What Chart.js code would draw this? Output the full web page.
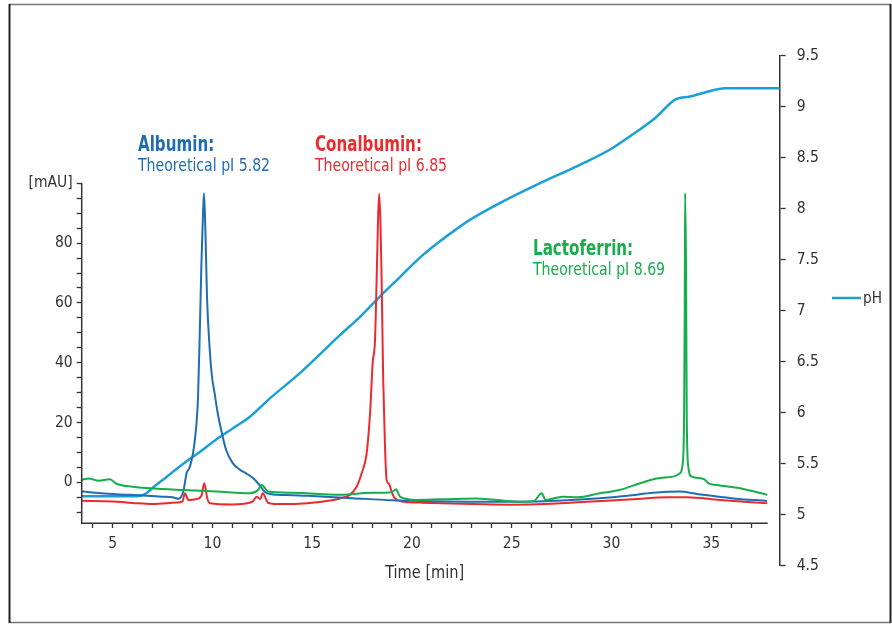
<!DOCTYPE html>
<html><head><meta charset="utf-8">
<script src="https://cdn.jsdelivr.net/npm/chart.js@4.4.0/dist/chart.umd.min.js"></script>
<style>html,body{margin:0;padding:0;background:#fff}#wrap{position:relative;width:892px;height:624px}</style>
</head><body><div id="wrap"><canvas id="c" width="892" height="624"></canvas></div>
<script>
// ---------- data ----------
const albuminTime  = [3.45,5.0,6.5,7.5,8.0,8.3,8.54,8.71,8.87,9.12,9.28,9.37,9.45,9.53,9.58,9.65,9.73,9.86,9.98,10.11,10.27,10.44,10.69,11.02,11.36,11.69,12.02,12.36,12.61,12.88,14,15,17,19,20.4,23,25.4,27.5,29.4,30.8,32.1,33.4,34.3,36,37.8];
const albuminValue = [-3.1,-3.9,-4.4,-4.8,-5.0,-5.5,-3.1,3.1,5.2,14.1,28.6,50.9,73.3,90,96.7,84,62,45,35.3,29.8,23,17.5,10.8,6.4,4.3,3.0,1.5,-0.9,-3.1,-3.9,-4.3,-4.6,-5.3,-6.0,-6.25,-6.5,-6.5,-6.1,-5.35,-4.5,-3.5,-3.1,-3.9,-5.3,-6.25];

const conalbuminTime  = [3.45,5.0,6.0,7.0,8.2,8.5,8.62,8.8,9.21,9.45,9.59,9.75,9.88,11,12.0,12.22,12.4,12.52,12.8,13.5,16,16.39,16.89,17.23,17.48,17.73,17.9,18.03,18.15,18.23,18.31,18.36,18.43,18.48,18.56,18.65,18.73,18.86,18.98,19.15,19.57,20.4,22.5,24.9,27,28.76,31.27,32.77,33.77,35.44,37.8];
const conalbuminValue = [-6.2,-6.4,-6.9,-7.3,-6.8,-6.4,-3.7,-5.9,-5.6,-4.5,-0.3,-5.5,-7.0,-7.4,-6.5,-4.8,-5.6,-3.7,-6.9,-7.3,-6.0,-5.4,-4.2,-1.5,3.0,9.7,23,39.8,47.6,67.7,90,96.5,85,67.7,34.2,11.9,0.8,-0.6,-3.1,-5.4,-6.5,-6.8,-7.2,-7.5,-7.2,-6.5,-5.6,-5.0,-5.0,-5.9,-7.0];

const lactoferrinTime  = [3.45,3.8,4.3,4.86,5.2,6.0,6.87,8.54,10.21,11.88,12.3,12.47,12.8,14,16.39,18.0,19.0,19.2,19.4,20.24,21.4,22.1,23.2,25.4,26.1,26.5,26.7,27.55,28.3,29.4,30.4,31.43,32.27,33.1,33.43,33.57,33.64,33.67,33.69,33.74,33.77,33.85,34.02,34.52,34.69,34.85,35.27,36.44,37.8];
const lactoferrinValue = [0.8,1.3,0.5,1.0,-0.5,-1.5,-2.0,-2.6,-3.1,-3.7,-2.5,-0.9,-3.1,-3.5,-4.2,-3.5,-3.3,-2.3,-4.8,-5.9,-5.7,-5.6,-5.4,-6.5,-6.3,-3.7,-5.9,-4.8,-5.0,-3.7,-2.6,-0.3,1.3,1.9,3.0,6.4,23.1,56.6,96.7,67.7,23.1,5.2,1.9,1.3,0.8,-0.3,-0.9,-2.0,-4.2];

const phTime  = [3.45,5.0,6.2,6.7,6.87,7.7,8.54,9.4,10.21,11.05,11.88,12.88,14.4,16.39,17.4,18.4,19.4,20.4,21.4,22.16,22.9,24.26,26.42,28.42,29.93,30.93,32.19,33.19,33.94,34.69,35.69,38.43];
const phValue = [5.18,5.18,5.18,5.21,5.24,5.37,5.50,5.62,5.74,5.85,5.96,6.14,6.39,6.76,6.94,7.14,7.33,7.52,7.68,7.79,7.89,8.04,8.25,8.43,8.58,8.71,8.89,9.07,9.10,9.14,9.18,9.18];

const xTickValues  = [4,5,6,7,8,9,10,11,12,13,14,15,16,17,18,19,20,21,22,23,24,25,26,27,28,29,30,31,32,33,34,35,36,37];
const mauTickValues = [-10,-5,0,5,10,15,20,25,30,35,40,45,50,55,60,65,70,75,80,85,90,95,100];
const phTickValues  = [4.5,5,5.5,6,6.5,7,7.5,8,8.5,9,9.5];

// ---------- styling ----------
const FONT = "'Liberation Sans Narrow','DejaVu Sans Condensed','Liberation Sans',sans-serif";
const C_ALB = '#1f6db4', C_CON = '#ec2a2e', C_LAC = '#16ad4b', C_PH = '#1aa0d6';
const AX = '#333333';
const X_MIN = 3.45, X_AXIS_END = 37.83, X_MAX = 38.43;
const Y_MIN = -27.9, Y_MAX = 142.7, X_AXIS_AT = -13.7;
const X_TITLE = 'Time [min]';

const zip = (t, v) => t.map((x, i) => ({x: x, y: v[i]}));

const decor = {
  id: 'decor',
  beforeDraw(chart) {
    const ctx = chart.ctx;
    ctx.save(); ctx.fillStyle = '#fff'; ctx.fillRect(0, 0, chart.width, chart.height); ctx.restore();
  },
  afterDraw(chart) {
    const ctx = chart.ctx, ys = chart.scales.y, xs = chart.scales.x;
    ctx.save();
    // left axis line (from [mAU] tick down to the time axis)
    ctx.strokeStyle = AX; ctx.lineWidth = 1.5;
    ctx.beginPath();
    ctx.moveTo(ys.right, ys.getPixelForValue(100));
    ctx.lineTo(ys.right, ys.getPixelForValue(X_AXIS_AT) + 0.75);
    ctx.stroke();
    // time axis line
    const yx = ys.getPixelForValue(X_AXIS_AT);
    const xl = xs.getPixelForValue(X_MIN), xr = xs.getPixelForValue(X_AXIS_END);
    ctx.beginPath(); ctx.moveTo(xl, yx); ctx.lineTo(xr, yx); ctx.stroke();
    // frame
    ctx.lineWidth = 1.5; ctx.strokeStyle = '#777';
    ctx.beginPath(); ctx.moveTo(9, 4.5); ctx.lineTo(891, 4.5); ctx.stroke();
    ctx.beginPath(); ctx.moveTo(9, 622.5); ctx.lineTo(891, 622.5); ctx.stroke();
    ctx.lineWidth = 2; ctx.strokeStyle = '#222';
    ctx.beginPath(); ctx.moveTo(9.5, 4); ctx.lineTo(9.5, 623); ctx.stroke();
    ctx.beginPath(); ctx.moveTo(890.5, 4); ctx.lineTo(890.5, 623); ctx.stroke();
    // text helper (condensed look via horizontal scaling)
    const txt = (s, x, y, font, sx) => {
      ctx.save(); ctx.translate(x, y); ctx.scale(sx, 1); ctx.font = font; ctx.fillText(s, 0, 0); ctx.restore();
    };
    // time-axis title, centred under the time axis
    ctx.fillStyle = AX; ctx.textAlign = 'center'; ctx.textBaseline = 'alphabetic';
    txt(X_TITLE, (xl + xr) / 2, 577.5, '18px ' + FONT, 0.9);
    // annotations
    const note = (x, y, title, sub, col) => {
      ctx.fillStyle = col; ctx.textAlign = 'left'; ctx.textBaseline = 'alphabetic';
      txt(title, x, y, 'bold 21px ' + FONT, 0.8);
      txt(sub, x, y + 20, '18px ' + FONT, 0.87);
    };
    note(138, 150.7, 'Albumin:', 'Theoretical pI 5.82', C_ALB);
    note(315, 150.7, 'Conalbumin:', 'Theoretical pI 6.85', C_CON);
    note(533, 255, 'Lactoferrin:', 'Theoretical pI 8.69', C_LAC);
    // legend
    ctx.strokeStyle = C_PH; ctx.lineWidth = 2.5;
    ctx.beginPath(); ctx.moveTo(832, 298); ctx.lineTo(861, 298); ctx.stroke();
    ctx.fillStyle = AX; ctx.textAlign = 'left'; ctx.textBaseline = 'middle';
    txt('pH', 863, 298.5, '16px ' + FONT, 0.95);
    ctx.restore();
  }
};

const lineDs = (label, data, color, axis, w) => ({
  label, data, borderColor: color, backgroundColor: color, borderWidth: w,
  pointRadius: 0, fill: false, yAxisID: axis, cubicInterpolationMode: 'monotone'
});

const TICK_FONT = { family: FONT, size: 15.5 };

new Chart(document.getElementById('c'), {
  type: 'line',
  data: {
    datasets: [
      lineDs('Lactoferrin', zip(lactoferrinTime, lactoferrinValue), C_LAC, 'y', 2),
      lineDs('Albumin', zip(albuminTime, albuminValue), C_ALB, 'y', 2),
      lineDs('Conalbumin', zip(conalbuminTime, conalbuminValue), C_CON, 'y', 2),
      lineDs('pH', zip(phTime, phValue), C_PH, 'y1', 2.5)
    ]
  },
  options: {
    responsive: false, animation: false, devicePixelRatio: 1,
    layout: { padding: { top: 55.7, bottom: 58.3, left: 0, right: 0 } },
    plugins: { legend: { display: false }, tooltip: { enabled: false } },
    scales: {
      x: {
        type: 'linear', min: X_MIN, max: X_MAX,
        position: { y: X_AXIS_AT },
        afterBuildTicks: s => { s.ticks = xTickValues.map(v => ({value: v})); },
        ticks: { autoSkip: false, maxRotation: 0, color: AX, padding: 6, font: TICK_FONT,
                 callback: v => (v % 5 === 0 ? String(v) : '') },
        grid: { drawOnChartArea: false, drawTicks: true, tickLength: 5, color: AX, tickWidth: 1.3 },
        border: { display: false },
        title: { display: false }
      },
      y: {
        type: 'linear', position: 'left', min: Y_MIN, max: Y_MAX,
        afterBuildTicks: s => { s.ticks = mauTickValues.map(v => ({value: v})); },
        afterFit: s => { s.width = 81.7; },
        ticks: { autoSkip: false, color: AX, padding: 4, font: TICK_FONT,
                 callback: v => (v === 100 ? '[mAU]' : (v >= 0 && v % 20 === 0 ? String(v) : '')) },
        grid: { drawOnChartArea: false, drawTicks: true, tickLength: 5, color: AX, tickWidth: 1.3 },
        border: { display: false }
      },
      y1: {
        type: 'linear', position: 'right', min: 4.5, max: 9.5,
        afterBuildTicks: s => { s.ticks = phTickValues.map(v => ({value: v})); },
        afterFit: s => { s.width = 892 - 779.7; },
        ticks: { autoSkip: false, color: AX, padding: 11, font: TICK_FONT, callback: v => String(v) },
        grid: { drawOnChartArea: false, drawTicks: true, tickLength: 6, color: AX, tickWidth: 1.3 },
        border: { display: true, color: AX, width: 1.5 }
      }
    }
  },
  plugins: [decor]
});
</script></body></html>
